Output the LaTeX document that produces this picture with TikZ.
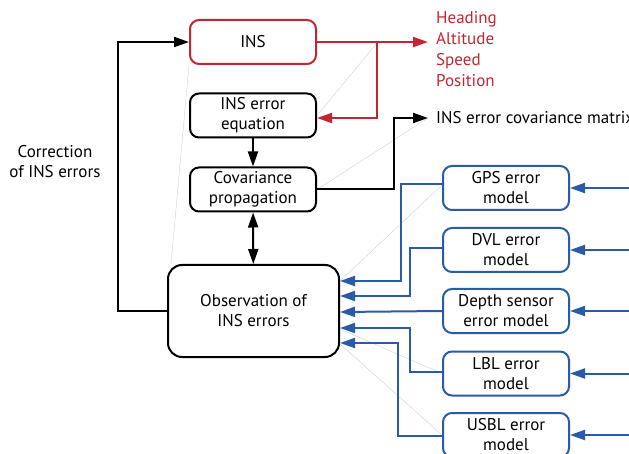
\documentclass[tikz,border=0pt]{standalone}
\usepackage{fontspec}
\setmainfont{PT Sans}
\usepackage{tikz}
\usetikzlibrary{positioning, arrows.meta, calc}

\definecolor{insred}{RGB}{193,39,50}
\definecolor{sensblue}{RGB}{41,91,168}

\begin{document}
\begin{tikzpicture}[x=1pt, y=-1pt,
		font=\fontsize{17}{20}\selectfont,
		block/.style={draw, line width=2pt, rounded corners=9pt, minimum width=126pt, minimum height=44pt, inner sep=0pt, align=center},
		redblock/.style={block, draw=insred},
		sensor/.style={block, draw=sensblue},
		arrow/.style={-{Triangle[length=15pt, width=10pt]}, line width=2pt},
		redarrow/.style={arrow, draw=insred, color=insred},
		bluearrow/.style={arrow, draw=sensblue, color=sensblue},
		ghost/.style={gray!45, line width=0.3pt}
		]
		\useasboundingbox (0,0) rectangle (629,454);
		
		% INS chain
		\node[redblock] (ins) at (253, 42) {INS};
		\node[block] (eqn) at (253, 115.5) {INS error\\equation};
		\node[block] (cov) at (253, 189.5) {Covariance\\propagation};
		\node[block, minimum width=171pt, minimum height=92pt, rounded corners=14pt] (obs) at (253.5, 311) {Observation of\\INS errors};
		
		% outputs
		\node[anchor=west, inner sep=0pt, align=left, text=insred, font=\fontsize{17}{21}\selectfont] (outs) at (436, 49) {Heading\\Altitude\\Speed\\Position};
		\node[anchor=west, inner sep=0pt] (covtxt) at (436, 118) {INS error covariance matrix};
		\node[align=center] (corr) at (55, 162) {Correction\\of INS errors};
		
		% aiding sensors
		\node[sensor] (gps) at (506, 188) {GPS error\\model};
		\node[sensor] (dvl) at (506, 250) {DVL error\\model};
		\node[sensor] (depth) at (506, 311) {Depth sensor\\error model};
		\node[sensor] (lbl) at (506, 373.5) {LBL error\\model};
		\node[sensor] (usbl) at (506, 435) {USBL error\\model};
		
		\coordinate (split) at (377, 43);
		\coordinate (edge) at (640, 0);
		
		% leftover guide lines
		\draw[ghost] (ins.south west) -- ($(obs.north west)+(4,0)$);
		\draw[ghost] (eqn.east) -- (split);
		\draw[ghost] (cov.east) -- ($(covtxt.west)+(-8,0)$);
		\draw[ghost] ($(obs.east)+(0,-30)$) -- ($(gps.west)+(0,-3)$);
		\draw[ghost] ($(obs.east)+(0,18)$) -- (lbl.west);
		\draw[ghost] ($(obs.east)+(0,33)$) -- (usbl.west);
		
		% black flow
		\draw[arrow] (eqn) -- (cov);
		\draw[arrow, {Triangle[length=15pt, width=10pt]}-{Triangle[length=15pt, width=10pt]}] (cov) -- (obs);
		\draw[arrow] (obs.west) -- ++(-49,0) |- (ins.west);
		\draw[arrow, shorten >=8pt] (cov.east) -- ++(77,0) |- (covtxt.west);
		
		% INS outputs
		\draw[redarrow, shorten >=8pt] (ins.east) -- (ins.east -| outs.west);
		\draw[redarrow] (split) |- ($(eqn.east)+(0,2.5)$);
		
		% sensor inputs
		\foreach \s in {gps, dvl, depth, lbl, usbl}
			\draw[bluearrow] (\s.east -| edge) -- (\s.east);
		
		% sensors into the observation
		\draw[bluearrow] ($(gps.west)+(0,-4)$) -- ++(-41,0) |- ($(obs.east)+(0,-30)$);
		\draw[bluearrow] ($(dvl.west)+(0,-2)$) -- ++(-32,0) |- ($(obs.east)+(0,-15)$);
		\draw[bluearrow] (depth.west) -- ($(obs.east)+(0,1)$);
		\draw[bluearrow] ($(lbl.west)+(0,-1.5)$) -- ++(-32,0) |- ($(obs.east)+(0,17)$);
		\draw[bluearrow] ($(usbl.west)+(0,1)$) -- ++(-44,0) |- ($(obs.east)+(0,32)$);
	\end{tikzpicture}
\end{document}
